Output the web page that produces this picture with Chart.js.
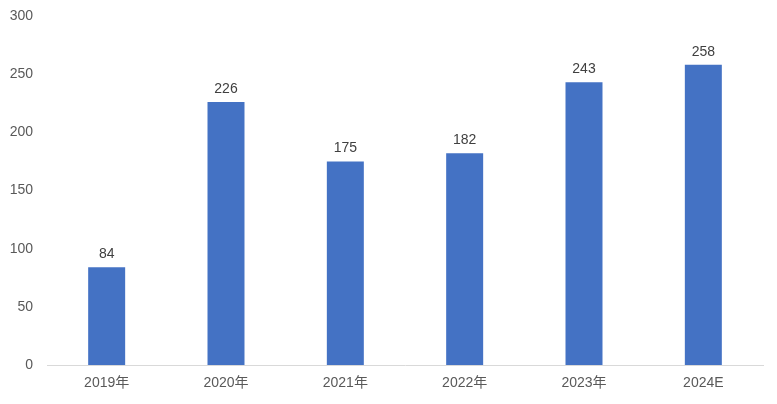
<!DOCTYPE html>
<html><head><meta charset="utf-8">
<script src="https://cdn.jsdelivr.net/npm/chart.js@4"></script>
<style>html,body{margin:0;padding:0;background:#fff}#w{width:777px;height:404px}</style>
</head><body><div id="w"><canvas id="c"></canvas></div>
<script>
const categories = ["2019年","2020年","2021年","2022年","2023年","2024E"];
const values = [84, 226, 175, 182, 243, 258];
const yTicks = [0, 50, 100, 150, 200, 250, 300];

const labelPlugin = {
  id: 'valLabels',
  afterDatasetsDraw(chart) {
    const ctx = chart.ctx;
    const meta = chart.getDatasetMeta(0);
    ctx.save();
    ctx.font = '14px "Liberation Sans", Arial, sans-serif';
    ctx.fillStyle = '#404040';
    ctx.textAlign = 'center';
    ctx.textBaseline = 'bottom';
    meta.data.forEach((bar, i) => {
      ctx.fillText(String(values[i]), bar.x, bar.y - 6);
    });
    ctx.restore();
  }
};

new Chart(document.getElementById('c'), {
  type: 'bar',
  data: { labels: categories, datasets: [{ data: values, backgroundColor: '#4472C4', barPercentage: 0.31, categoryPercentage: 1 }] },
  options: {
    responsive: true, maintainAspectRatio: false, animation: false,
    layout: { padding: { top: 16, right: 14, left: 0, bottom: 0 } },
    plugins: { legend: { display: false }, tooltip: { enabled: false } },
    scales: {
      x: {
        grid: { display: false, drawTicks: false },
        border: { display: true, color: '#d9d9d9', width: 1 },
        ticks: { color: '#595959', font: { size: 14, family: '"Liberation Sans", "Noto Sans CJK SC", sans-serif' }, padding: 10 },
        afterFit(s) { s.height = 39; s.paddingLeft = 0; s.paddingRight = 0; }
      },
      y: {
        min: 0, max: 300,
        afterBuildTicks(s) { s.ticks = yTicks.map(v => ({ value: v })); },
        grid: { display: false, drawTicks: false },
        border: { display: false },
        ticks: { color: '#595959', font: { size: 14, family: '"Liberation Sans", sans-serif' }, padding: 14 },
        afterFit(s) { s.width = 47; s.paddingTop = 0; s.paddingBottom = 0; }
      }
    }
  },
  plugins: [labelPlugin]
});
</script></body></html>
